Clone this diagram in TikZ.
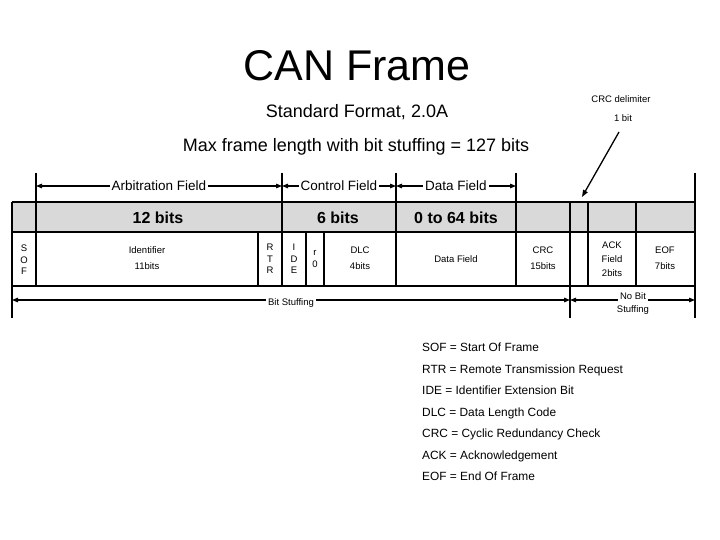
\documentclass[tikz,border=0pt]{standalone}
\usepackage{fontspec}
\setmainfont{Liberation Sans}
\usetikzlibrary{arrows.meta}
\definecolor{bandgrey}{RGB}{217,217,217}
\tikzset{
  frameline/.style={line width=1.6pt},
  dimarrow/.style={line width=1.2pt,{Triangle[length=6pt,width=4.5pt]}-{Triangle[length=6pt,width=4.5pt]}},
  dimlabel/.style={fill=white,inner sep=2pt,font=\fontsize{13.5}{14}\selectfont},
  celltext/.style={font=\fontsize{9.5}{12}\selectfont,align=center,inner sep=0pt},
  bandtext/.style={font=\fontsize{16}{18}\selectfont\bfseries,inner sep=0pt},
  legend/.style={font=\fontsize{11.9}{13}\selectfont,anchor=base west,inner sep=0pt},
}
\begin{document}
\begin{tikzpicture}[x=1pt,y=-1pt]
\useasboundingbox (0,0) rectangle (720,540);
% titles
\node[font=\fontsize{43}{46}\selectfont,anchor=base,inner sep=0pt] (title) at (357,81) {CAN Frame};
\node[font=\fontsize{18}{20}\selectfont,anchor=base,inner sep=0pt] (std) at (357,118) {Standard Format, 2.0A};
\node[font=\fontsize{18}{20}\selectfont,anchor=base,inner sep=0pt] (max) at (356,152) {Max frame length with bit stuffing = 127 bits};
\node[celltext] (crcd) at (621,99) {CRC delimiter};
\node[celltext] (onebit) at (623,118) {1 bit};
% grey band and grid
\fill[bandgrey] (12,202) rectangle (695,232);
\draw[frameline] (12,202) -- (695,202);
\draw[frameline] (12,232) -- (695,232);
\draw[frameline] (12,286) -- (695,286);
\draw[frameline] (12,202) -- (12,318);
\draw[frameline] (36,173) -- (36,286);
\draw[frameline] (258,232) -- (258,286);
\draw[frameline] (282,173) -- (282,286);
\draw[frameline] (306,232) -- (306,286);
\draw[frameline] (324,232) -- (324,286);
\draw[frameline] (396,173) -- (396,286);
\draw[frameline] (516,173) -- (516,286);
\draw[frameline] (570,202) -- (570,318);
\draw[frameline] (588,202) -- (588,286);
\draw[frameline] (636,202) -- (636,286);
\draw[frameline] (695,173) -- (695,318);
% dimension coordinates
\coordinate (a1) at (36,186);
\coordinate (a2) at (282,186);
\coordinate (a3) at (396,186);
\coordinate (a4) at (516,186);
\coordinate (b1) at (12,300);
\coordinate (b2) at (570,300);
\coordinate (b3) at (695,300);
\draw[dimarrow] (a1) -- (a2);
\draw[dimarrow] (a2) -- (a3);
\draw[dimarrow] (a3) -- (a4);
\draw[dimarrow] (b1) -- (b2);
\draw[dimarrow] (b2) -- (b3);
\node[dimlabel] (arb) at (159,186) {Arbitration Field};
\node[dimlabel] (ctl) at (339,186) {Control Field};
\node[dimlabel] (dat) at (456,186) {Data Field};
\node[celltext,fill=white,inner sep=2pt] (bs) at (291,303) {Bit Stuffing};
\node[celltext,fill=white,inner sep=2pt] (nb) at (633,296) {No Bit};
\node[celltext,fill=white,inner sep=1pt] (nbs) at (633,310) {Stuffing};
% band text
\node[bandtext] (b12) at (158,218) {12 bits};
\node[bandtext] (b6) at (338,218) {6 bits};
\node[bandtext] (b64) at (456,218) {0 to 64 bits};
% cells
\node[celltext] (sof) at (24,260) {S\\[-0.5pt]O\\[-0.5pt]F};
\node[celltext] (id) at (147,258) {Identifier\\[4pt]11bits};
\node[celltext] (rtr) at (270,259) {R\\[-0.5pt]T\\[-0.5pt]R};
\node[celltext] (ide) at (294,259) {I\\[-0.5pt]D\\[-0.5pt]E};
\node[celltext] (r0) at (315,259) {r\\[0pt]0};
\node[celltext] (dlc) at (360,258) {DLC\\[4pt]4bits};
\node[celltext] (df) at (456,259) {Data Field};
\node[celltext] (crc) at (543,258) {CRC\\[4pt]15bits};
\node[celltext] (ack) at (612,259) {ACK\\[2pt]Field\\[2pt]2bits};
\node[celltext] (eof) at (665,258) {EOF\\[4pt]7bits};
% CRC delimiter arrow
\coordinate (cd1) at (619,132);
\coordinate (cd2) at (582,197);
\draw[line width=1.3pt,-{Triangle[length=7pt,width=5pt]}] (cd1) -- (cd2);
% legend
\node[legend] (l1) at (422,351) {SOF = Start Of Frame};
\node[legend] (l2) at (422,373) {RTR = Remote Transmission Request};
\node[legend] (l3) at (422,394.5) {IDE = Identifier Extension Bit};
\node[legend] (l4) at (422,416) {DLC = Data Length Code};
\node[legend] (l5) at (422,437.5) {CRC = Cyclic Redundancy Check};
\node[legend] (l6) at (422,459) {ACK = Acknowledgement};
\node[legend] (l7) at (422,480.5) {EOF = End Of Frame};
\end{tikzpicture}
\end{document}
